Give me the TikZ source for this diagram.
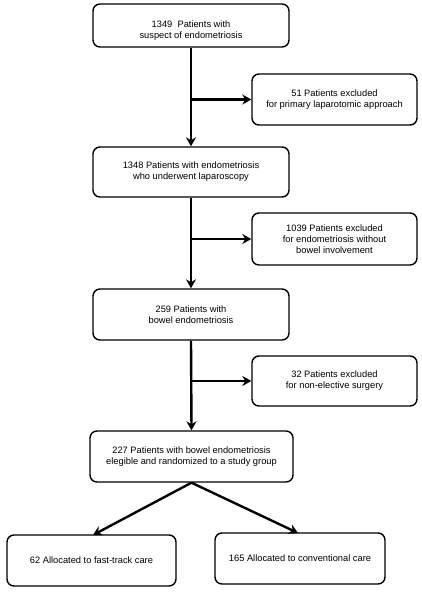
\documentclass[tikz,border=0pt]{standalone}
\usepackage{fontspec}
\setmainfont{Liberation Sans}
\usetikzlibrary{arrows.meta,positioning}
\begin{document}
\begin{tikzpicture}[x=1pt,y=-1pt,
  flowbox/.style={draw,line width=1.4pt,rounded corners=7pt,align=center,inner sep=0pt,
     font=\fontsize{9.3}{11}\selectfont},
  conn/.style={line width=2.4pt,-{Stealth[length=9pt,width=10pt,inset=3pt]}}]
\useasboundingbox (0,0) rectangle (422,595);
\node[flowbox,minimum width=196pt,minimum height=43pt] (b1) at (191,25.5) {\rule{0pt}{17pt}1349\ \ Patients with\\suspect of endometriosis};
\node[flowbox,minimum width=165pt,minimum height=51pt] (e1) at (334.5,99.5) {51 Patients excluded\\for primary laparotomic approach};
\node[flowbox,minimum width=196pt,minimum height=50pt] (b2) at (191,172) {1348 Patients with endometriosis\\who underwent laparoscopy};
\node[flowbox,minimum width=165pt,minimum height=52pt] (e2) at (334.5,239) {1039 Patients excluded\\for endometriosis without\\bowel involvement};
\node[flowbox,minimum width=196pt,minimum height=51pt] (b3) at (191,314.5) {259 Patients with\\bowel endometriosis};
\node[flowbox,minimum width=165pt,minimum height=50pt] (e3) at (334.5,381) {32 Patients excluded\\for non-elective surgery};
\node[flowbox,minimum width=203pt,minimum height=51pt] (b4) at (191.5,456.5) {227 Patients with bowel endometriosis\\elegible and randomized to a study group};
\node[flowbox,minimum width=169pt,minimum height=51pt] (l) at (91.5,560.5) {62 Allocated to fast-track care};
\node[flowbox,minimum width=170pt,minimum height=51pt] (r) at (300,558.5) {165 Allocated to conventional care};
\coordinate (j1) at (b1.south |- e1.west);
\coordinate (j2) at (b2.south |- e2.west);
\coordinate (j3) at (b3.south |- e3.west);
\draw[conn] (b1.south) -- (b2.north);
\draw[conn] (j1) -- (e1.west);
\draw[conn] (b2.south) -- (b3.north);
\draw[conn] (j2) -- (e2.west);
\draw[conn] (b3.south) -- (b4.north);
\draw[conn] (j3) -- (e3.west);
\coordinate (lt) at (93,535);
\coordinate (rt) at (298,533);
\draw[conn] (b4.south) -- (lt);
\draw[conn] (b4.south) -- (rt);
\end{tikzpicture}
\end{document}
